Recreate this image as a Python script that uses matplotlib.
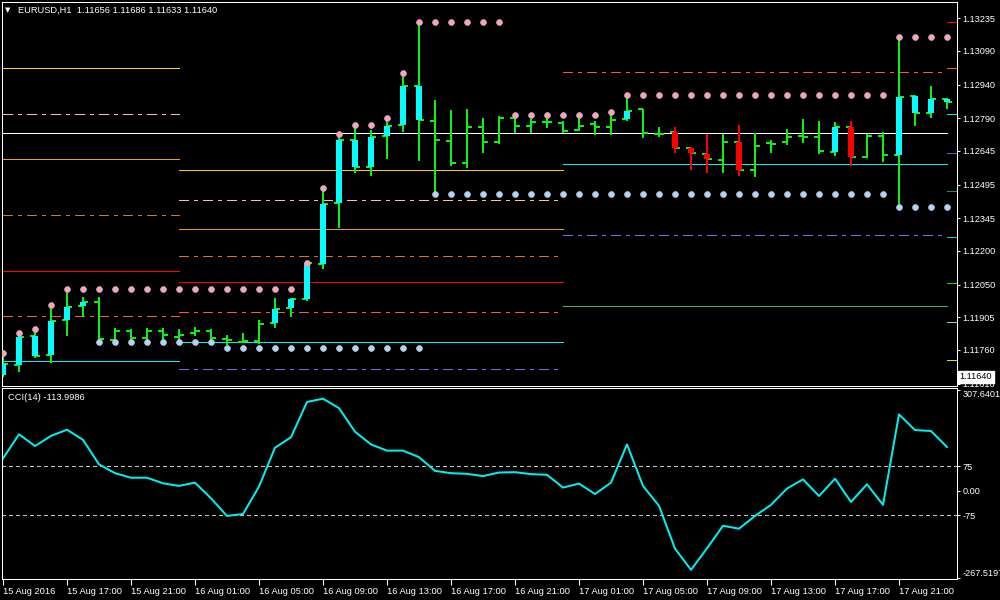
import matplotlib
matplotlib.use('Agg')
import matplotlib.pyplot as plt
import matplotlib.transforms as mtransforms
import numpy as np

plt.rcParams['font.family'] = ['Liberation Sans', 'DejaVu Sans']
plt.rcParams['lines.scale_dashes'] = False

# ---------------- data ----------------
header_text = "EURUSD,H1  1.11656 1.11686 1.11633 1.11640"
cci_text = "CCI(14) -113.9986"

opens = [1.11648, 1.11693, 1.11822, 1.11737, 1.11893, 1.11955, 1.11974, 1.11804, 1.11845, 1.11813,
         1.11845, 1.11819, 1.11834, 1.11845, 1.11809, 1.11797, 1.11801, 1.11881, 1.11948, 1.11988,
         1.12142, 1.12414, 1.12692, 1.12574, 1.12710, 1.12759, 1.12932, 1.12780, 1.12691, 1.12593,
         1.12753, 1.12686, 1.12792, 1.12757, 1.12774, 1.12771, 1.12738, 1.12764, 1.12753, 1.12787,
         1.12830, 1.12720, 1.12729, 1.12659, 1.12631, 1.12605, 1.12686, 1.12560, 1.12679, 1.12686,
         1.12712, 1.12708, 1.12640, 1.12750, 1.12619, 1.12713, 1.12627, 1.12889, 1.12812, 1.12877]
highs = [1.11746, 1.11835, 1.11853, 1.11960, 1.12031, 1.11995, 1.11995, 1.11858, 1.11853, 1.11858,
         1.11858, 1.11853, 1.11862, 1.11853, 1.11826, 1.11835, 1.11893, 1.11991, 1.11991, 1.12151,
         1.12479, 1.12723, 1.12760, 1.12738, 1.12790, 1.12993, 1.13217, 1.12872, 1.12827, 1.12832,
         1.12792, 1.12800, 1.12812, 1.12787, 1.12797, 1.12778, 1.12797, 1.12778, 1.12820, 1.12894,
         1.12830, 1.12753, 1.12753, 1.12661, 1.12720, 1.12720, 1.12760, 1.12724, 1.12694, 1.12743,
         1.12787, 1.12778, 1.12772, 1.12778, 1.12719, 1.12728, 1.13150, 1.12894, 1.12934, 1.12882]
lows = [1.11640, 1.11662, 1.11725, 1.11702, 1.11822, 1.11908, 1.11804, 1.11804, 1.11804, 1.11804,
        1.11804, 1.11797, 1.11822, 1.11782, 1.11780, 1.11789, 1.11788, 1.11859, 1.11908, 1.11979,
        1.12120, 1.12304, 1.12548, 1.12535, 1.12609, 1.12731, 1.12600, 1.12457, 1.12579, 1.12571,
        1.12637, 1.12676, 1.12724, 1.12724, 1.12748, 1.12724, 1.12735, 1.12716, 1.12716, 1.12778,
        1.12704, 1.12708, 1.12637, 1.12560, 1.12546, 1.12548, 1.12535, 1.12530, 1.12637, 1.12671,
        1.12682, 1.12630, 1.12624, 1.12579, 1.12612, 1.12597, 1.12397, 1.12757, 1.12790, 1.12830]
closes = [1.11697, 1.11819, 1.11735, 1.11890, 1.11952, 1.11974, 1.11809, 1.11845, 1.11813, 1.11844,
          1.11828, 1.11828, 1.11845, 1.11815, 1.11805, 1.11801, 1.11875, 1.11943, 1.11985, 1.12145,
          1.12407, 1.12692, 1.12574, 1.12709, 1.12758, 1.12932, 1.12781, 1.12694, 1.12593, 1.12753,
          1.12686, 1.12792, 1.12757, 1.12774, 1.12774, 1.12735, 1.12757, 1.12753, 1.12783, 1.12824,
          1.12726, 1.12720, 1.12658, 1.12637, 1.12608, 1.12686, 1.12560, 1.12667, 1.12676, 1.12708,
          1.12708, 1.12646, 1.12750, 1.12619, 1.12713, 1.12626, 1.12886, 1.12815, 1.12875, 1.12864]
# body colour of highlighted candles: c = cyan, r = red, '' = plain bar
body_kind = ['c', 'c', 'c', 'c', 'c', 'c', '', '', '', '',
             '', '', '', '', '', '', '', 'c', 'c', 'c',
             'c', 'c', 'c', 'c', 'c', 'c', 'c', '', '', '',
             '', '', '', '', '', '', '', '', '', 'c',
             '', '', 'r', 'r', 'r', '', 'r', '', '', '',
             '', '', 'c', 'r', '', '', 'c', 'c', 'c', 'c']

N = np.nan
upper_dots = [1.11746, 1.11835, 1.11853, 1.11960] + [1.12030] * 15 + \
             [1.12148, 1.12479, 1.12720, 1.12760, 1.12760, 1.12790, 1.12993] + \
             [1.13217] * 6 + [1.12804] * 6 + [1.12817] + [1.12893] * 17 + [1.13150] * 4
lower_dots = [N] * 6 + [1.11797] * 8 + [1.11767] * 13 + [1.12452] * 29 + [1.12397] * 4

cci = [99, 173, 137, 168, 187, 156, 81, 54, 40, 40,
       23, 15, 25, -23, -77, -71, 13, 132, 164, 272,
       282, 253, 181, 142, 123, 123, 103, 61, 54, 52,
       45, 56, 57, 51, 49, 10, 22, -10, 25, 142,
       15, -46, -177, -242, -176, -107, -116, -77, -43, 7,
       35, -16, 37, -34, 20, -43, 234, 186, 183, 134]

time_tick_idx = list(range(0, 60, 4))
time_labels = ['15 Aug 2016', '15 Aug 17:00', '15 Aug 21:00', '16 Aug 01:00', '16 Aug 05:00',
               '16 Aug 09:00', '16 Aug 13:00', '16 Aug 17:00', '16 Aug 21:00', '17 Aug 01:00',
               '17 Aug 05:00', '17 Aug 09:00', '17 Aug 13:00', '17 Aug 17:00', '17 Aug 21:00']

price_ticks = [1.13235, 1.13090, 1.12940, 1.12790, 1.12645, 1.12495, 1.12345,
               1.12200, 1.12050, 1.11905, 1.11760, 1.11610]
price_labels = ['1.13235', '1.13090', '1.12940', '1.12790', '1.12645', '1.12495', '1.12345',
                '1.12200', '1.12050', '1.11905', '1.11760', '1.11610']
current_price = 1.11640

cci_ticks = [307.6401, 75, 0, -75, -267.5197]
cci_tick_labels = ['307.6401', '75', '0.00', '-75', '-267.5197']
cci_levels = [75, -75]

# pivot-style levels, per day (start index, end index)
day_spans = [(0, 11), (11, 35), (35, 59)]
day1_levels = [1.13014, 1.12809, 1.12609, 1.12360, 1.12111, 1.11911, 1.11711]
day1_kinds = ['gold', 'pinkdd', 'orange', 'orangedd', 'red', 'reddd', 'cyan']
day2_levels = [1.12560, 1.12427, 1.12298, 1.12178, 1.12062, 1.11929, 1.11795, 1.11675]
day2_kinds = ['gold', 'pinkdd', 'orange', 'orangedd', 'red', 'reddd', 'cyan', 'purpledd']
day3_levels = [1.12996, 1.12587, 1.12271, 1.11955]
day3_kinds = ['reddd', 'cyan', 'purpledd', 'green']
white_level = 1.12725

right_marks = [1.13219, 1.13014, 1.12809, 1.12636, 1.12467, 1.12262, 1.12058, 1.11884, 1.11715]
right_mark_colors = ['#FF0000', '#FF5030', '#00E8F0', '#6A5ACD', '#2E8B57',
                     '#00C8E0', '#22CC22', '#9FD0E8', '#B0F020']

# ---------------- styles ----------------
DD = (0, (6.8, 3.6, 2.2, 4.3))
styles = {
    'gold': ('#FFD000', '-'),
    'orange': ('#F0A010', '-'),
    'red': ('#FF0000', '-'),
    'cyan': ('#00F0FF', '-'),
    'green': ('#3CB371', '-'),
    'pinkdd': ('#FFB6C1', DD),
    'orangedd': ('#E0701E', DD),
    'reddd': ('#FF5533', DD),
    'purpledd': ('#7B68EE', DD),
}

GREEN = '#10F010'
W = 1000
H = 600
fig = plt.figure(figsize=(10, 6), dpi=100, facecolor='black')

def fx(px):
    return px / W

def fy(py):
    return 1 - py / H

# main pane: pixel x 2..957, y 2..386
ax = fig.add_axes([fx(2), fy(386), fx(955), 384 / H])
ax.set_facecolor('black')
px_per_bar = 16.0
ax.set_xlim((2 - 3) / px_per_bar, (957 - 3) / px_per_bar)
ax.set_ylim(1.115995, 1.133075)

idx = np.arange(len(opens))
lw2 = 1.44
lw1 = 0.75
lwl = 0.6

# levels
for (s, e), levs, kinds in zip(day_spans, [day1_levels, day2_levels, day3_levels],
                                [day1_kinds, day2_kinds, day3_kinds]):
    for lv, k in zip(levs, kinds):
        col, ls = styles[k]
        ax.plot([s, e], [lv, lv], color=col, lw=lwl, linestyle=ls, zorder=1, antialiased=False)
ax.plot([0, 59], [white_level, white_level], color='white', lw=lwl, zorder=1.2, antialiased=False)
for lv, col in zip(right_marks, right_mark_colors):
    ax.plot([59.02, 59.6], [lv, lv], color=col, lw=lwl, zorder=1, antialiased=False)

# OHLC bars
tick_len = 0.33
ax.vlines(idx, lows, highs, colors=GREEN, lw=lw2, zorder=2)
ax.hlines(opens, idx - tick_len, idx, colors=GREEN, lw=lw2, zorder=2)
ax.hlines(closes, idx, idx + tick_len, colors=GREEN, lw=lw2, zorder=2)

for i, k in enumerate(body_kind):
    if not k:
        continue
    lo = min(opens[i], closes[i])
    hi = max(opens[i], closes[i])
    col = '#00FFFF' if k == 'c' else '#FF0000'
    if k == 'r':
        ax.vlines(i, lows[i], highs[i], colors=col, lw=lw2, zorder=2.5)
    ax.bar(i, hi - lo, bottom=lo, width=0.32, color=col, edgecolor='none', zorder=3)

# dots
ax.plot(idx, upper_dots, 'o', ms=4.2, mfc='#FFA4A4', mec='#C8A8E8', mew=0.5, zorder=4, linestyle='none')
ax.plot(idx, lower_dots, 'o', ms=4.2, mfc='#A8D8F4', mec='#C8C0E0', mew=0.5, zorder=4, linestyle='none')

# axes styling
for sp in ax.spines.values():
    sp.set_color('white')
    sp.set_linewidth(lw1)
ax.set_xticks([])
ax.yaxis.tick_right()
ax.set_yticks(price_ticks)
ax.set_yticklabels(price_labels)
ax.tick_params(axis='y', colors='white', labelcolor='white', labelsize=6.6,
               length=2.2, width=lw1, pad=1.8, direction='out')

trans = mtransforms.blended_transform_factory(ax.transAxes, ax.transData)
ax.text(1.0025, current_price, '1.11640', transform=trans, color='black', fontsize=6.6,
        va='center', ha='left',
        bbox=dict(boxstyle='square,pad=0.18', facecolor='white', edgecolor='white'), zorder=6)

# header
fig.text(fx(5), fy(10), '\u25BC', color='white', fontsize=5, va='center', ha='left',
         family=['DejaVu Sans'])
fig.text(fx(18), fy(10), header_text, color='white', fontsize=6.7, va='center', ha='left')

# CCI pane: pixel y 388..579
ax2 = fig.add_axes([fx(2), fy(579), fx(955), (579 - 388) / H])
ax2.set_facecolor('black')
ax2.set_xlim((2 - 3) / px_per_bar, (957 - 3) / px_per_bar)
ax2.set_ylim(-270.0, 314.7)
for lv in cci_levels:
    ax2.axhline(lv, color='#C8C8C8', lw=lwl, linestyle=(0, (2.2, 2.2)), zorder=1, antialiased=False)
ax2.plot(idx, cci, color='#00F0F0', lw=lw2, zorder=2)
for sp in ax2.spines.values():
    sp.set_color('white')
    sp.set_linewidth(lw1)
ax2.yaxis.tick_right()
ax2.set_yticks(cci_ticks)
ax2.set_yticklabels(cci_tick_labels)
ax2.tick_params(axis='y', colors='white', labelcolor='white', labelsize=6.6,
                length=2.2, width=lw1, pad=1.8)
ylabels = ax2.get_yticklabels()
ylabels[0].set_va('top')
ylabels[-1].set_va('bottom')
ax2.set_xticks(time_tick_idx)
ax2.set_xticklabels(time_labels, ha='left')
ax2.tick_params(axis='x', colors='white', labelcolor='white', labelsize=6.7,
                length=4, width=lw1, pad=2)
fig.text(fx(8), fy(397), cci_text, color='white', fontsize=6.7, va='center', ha='left')

fig.savefig('out.png', dpi=100, facecolor='black')
